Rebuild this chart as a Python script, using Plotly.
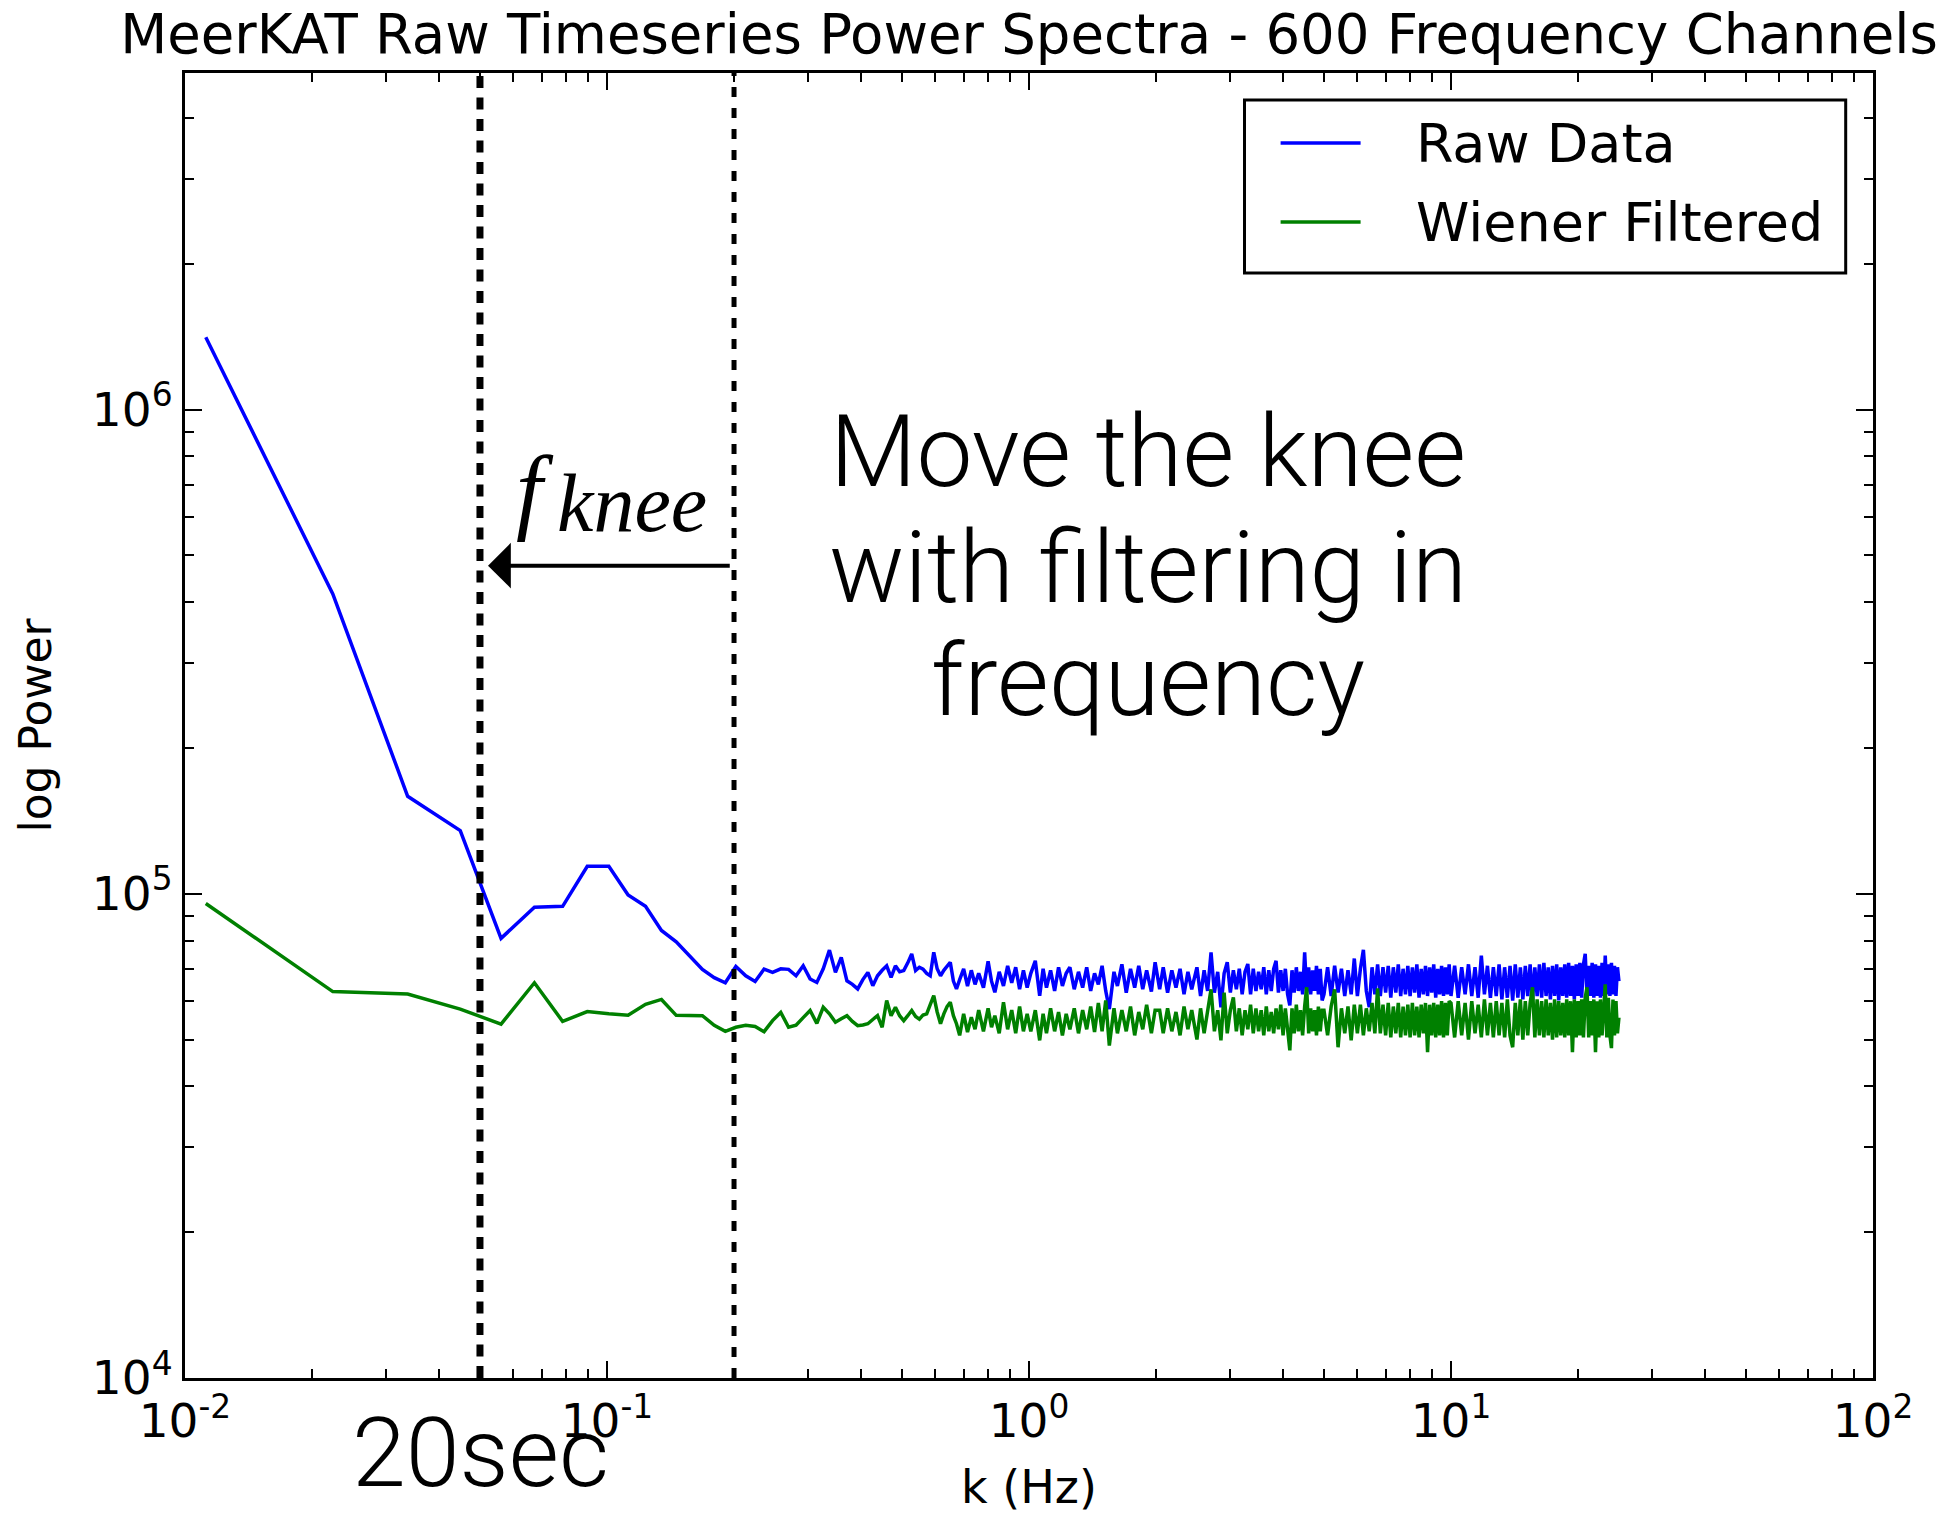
import math
import plotly.graph_objects as go

# ---------------- data ----------------
freq_hz = [
    0.0112, 0.0224, 0.0337, 0.0449, 0.0561, 0.0673, 0.0785, 0.0898, 0.1010, 0.1122,
    0.1234, 0.1346, 0.1459, 0.1571, 0.1683, 0.1795, 0.1907, 0.2020, 0.2132, 0.2244,
    0.2356, 0.2468, 0.2581, 0.2693, 0.2805, 0.2917, 0.3029, 0.3142, 0.3254, 0.3366,
    0.3478, 0.3590, 0.3703, 0.3815, 0.3927, 0.4039, 0.4151, 0.4264, 0.4376, 0.4488,
    0.4600, 0.4712, 0.4825, 0.4937, 0.5049, 0.5161, 0.5273, 0.5386, 0.5498, 0.5610,
    0.5722, 0.5834, 0.5947, 0.6059, 0.6171, 0.6283, 0.6395, 0.6508, 0.6620, 0.6732,
    0.685, 0.70, 0.715, 0.73, 0.745, 0.76, 0.78, 0.80, 0.815, 0.83,
    0.85, 0.87, 0.89, 0.91, 0.93, 0.95, 0.97, 0.99,
    1.01, 1.035, 1.06, 1.08, 1.10, 1.125, 1.15, 1.175, 1.20, 1.225,
    1.25, 1.28, 1.31, 1.34, 1.37, 1.40, 1.43, 1.46, 1.49, 1.52,
    1.55, 1.59, 1.62, 1.66, 1.70, 1.74, 1.78, 1.82, 1.86, 1.90,
    1.95, 1.99,
    2.04, 2.08, 2.13, 2.18, 2.23, 2.28, 2.33, 2.38, 2.43,
    2.50, 2.55, 2.60, 2.65, 2.70, 2.75, 2.80, 2.85, 2.90, 2.95,
    3.00, 3.05, 3.10, 3.15, 3.20, 3.25, 3.30, 3.35, 3.40, 3.45,
    3.50, 3.55, 3.60, 3.65, 3.70, 3.75, 3.80, 3.85, 3.90, 3.95,
    4.00, 4.05, 4.10, 4.15, 4.20, 4.25, 4.30, 4.35, 4.40, 4.45,
    4.50, 4.55, 4.60, 4.65, 4.70, 4.75, 4.80, 4.85, 4.90, 4.95,
    5.0, 5.1, 5.2, 5.3, 5.4, 5.5, 5.6, 5.7, 5.8, 5.9,
    6.0, 6.1, 6.2, 6.3, 6.4, 6.5, 6.6, 6.7, 6.8, 6.9,
    7.0, 7.1, 7.2, 7.3, 7.4, 7.5, 7.6, 7.7, 7.8, 7.9,
    8.0, 8.1, 8.2, 8.3, 8.4, 8.5, 8.6, 8.7, 8.8, 8.9,
    9.0, 9.1, 9.2, 9.3, 9.4, 9.5, 9.6, 9.7, 9.8, 9.9,
    10.0, 10.2, 10.4, 10.6, 10.8, 11.0, 11.2, 11.4, 11.6, 11.8,
    12.0, 12.2, 12.4, 12.6, 12.8, 13.0, 13.2, 13.4, 13.6, 13.8,
    14.0, 14.2, 14.4, 14.6, 14.8, 15.0, 15.2, 15.4, 15.6, 15.8,
    16.0, 16.2, 16.4, 16.6, 16.8, 17.0, 17.2, 17.4, 17.6, 17.8,
    18.0, 18.2, 18.4, 18.6, 18.8, 19.0, 19.2, 19.4, 19.6, 19.8,
    20.0, 20.2, 20.4, 20.6, 20.8, 21.0, 21.2, 21.4, 21.6, 21.8,
    22.0, 22.2, 22.4, 22.6, 22.8, 23.0, 23.2, 23.4, 23.6, 23.8,
    24.0, 24.2, 24.4, 24.6, 24.8, 25.0,
]

raw_power = [
    1410000, 416000, 159000, 135000, 80900, 93800, 94200, 114000, 114000, 99400,
    94200, 84000, 79600, 74200, 69800, 67100, 65500, 70800, 67700, 65900,
    69900, 68800, 70000, 69800, 67700, 71000, 66700, 65600, 70000, 76500,
    68800, 73900, 66100, 65000, 63600, 66500, 68800, 64600, 67700, 69500,
    71000, 67200, 71000, 69000, 69400, 72000, 75100, 69400, 70500, 69900,
    68500, 67700, 75700, 70000, 67700, 69500, 71000, 72200, 66000, 63600,
    66500, 70000, 64500, 69500, 65000, 68500, 64000, 72500, 66000, 62600,
    69000, 64500, 71000, 65500, 70500, 63500, 69500, 64000,
    68500, 72700, 61600, 70000, 64000, 69500, 63000, 70500, 64500, 68500,
    70500, 63500, 69000, 64000, 70500, 63000, 68500, 65000, 71000, 63000,
    57800, 69000, 64500, 71500, 62500, 70000, 64000, 71000, 63500, 69500,
    62800, 72200,
    63500, 70500, 62500, 69500, 64000, 70000, 62000, 69000, 63500,
    70500, 61500, 69500, 63000, 75700, 62500, 69000, 58300, 68500, 72200,
    62500, 69500, 63500, 70000, 62000, 69000, 71600, 62000, 70000, 63000,
    69000, 63500, 70500, 62000, 69500, 63000, 70000, 72700, 62500, 69500,
    63000, 70000, 62000, 58800, 69500, 62500, 70500, 63000, 69000, 62000,
    75700, 62500, 70500, 62000, 69500, 63000, 71000, 62000, 70000, 60200,
    62000, 70500, 61500, 71000, 62500, 70000, 61500, 69500, 62000, 73500,
    61500, 70000, 76600, 63000, 58300, 70500, 62000, 71500, 61500, 70500,
    62500, 71000, 61000, 70500, 62500, 71500, 61500, 70000, 62000, 71000,
    61500, 70500, 62500, 71500, 61000, 70000, 62000, 71000, 61500, 70500,
    62500, 71500, 61000, 70000, 62000, 71000, 61500, 70500, 62000, 71500,
    61500, 71000, 61000, 70500, 62000, 71500, 61500, 70500, 61000, 74500,
    62000, 71000, 61000, 70500, 61500, 71500, 60500, 70500, 61000, 71000,
    60200, 71500, 61000, 70500, 60500, 71000, 61500, 71500, 60200, 70500,
    61500, 71500, 61000, 72000, 61500, 70500, 60500, 71000, 61500, 71500,
    60200, 70500, 61500, 71500, 61000, 72000, 61500, 71000, 60500, 71500,
    61500, 72000, 61000, 71500, 75200, 62000, 71000, 61500, 72000, 61000,
    71500, 61500, 71000, 61000, 72000, 61500, 74500, 62000, 71500, 61500,
    72000, 62000, 71000, 61500, 70500, 66000,
]

wiener_power = [
    95500, 62800, 62100, 57800, 53800, 65500, 54500, 57100, 56500, 56100,
    59100, 60500, 56100, 56000, 56000, 53500, 52000, 53000, 53500, 53200,
    51900, 54700, 56900, 53000, 53500, 55500, 57400, 54000, 58300, 56500,
    54300, 55200, 56000, 54500, 53400, 53600, 53900, 55000, 56000, 53000,
    60200, 56000, 58300, 56000, 54700, 56000, 57400, 55800, 55100, 56200,
    56500, 59000, 61600, 57000, 53900, 56500, 58500, 59700, 56000, 53900,
    51000, 56500, 51800, 55600, 52500, 57500, 52000, 58000, 53000, 56000,
    51500, 59700, 52500, 57500, 51500, 58500, 52000, 56500,
    52000, 57500, 49800, 56500, 51500, 58000, 52000, 57000, 51000, 56500,
    52500, 58000, 51500, 57500, 52500, 58500, 51800, 59500, 52000, 60200,
    48600, 58000, 51500, 57500, 52000, 58500, 51000, 57000, 52500, 59000,
    51500, 57500,
    57500, 51500, 58000, 52000, 57000, 51000, 58500, 52500, 57500,
    50000, 58000, 51500, 57000, 63500, 52000, 57500, 49800, 62500, 51500,
    57500, 61100, 52000, 58000, 51000, 57500, 52500, 59000, 51500, 58000,
    52000, 57500, 51000, 58500, 52000, 57000, 51500, 58000, 52500, 59000,
    51000, 58000, 52000, 47500, 58000, 51500, 59000, 52000, 57500, 51000,
    58500, 64100, 51500, 58000, 52000, 57500, 51000, 58500, 52000, 57500,
    57500, 51000, 58500, 63500, 48200, 58000, 51500, 58500, 49800, 59000,
    51500, 59000, 51000, 58000, 52000, 59500, 51500, 63800, 51500, 59000,
    51000, 59500, 50500, 58500, 51500, 59500, 50500, 58500, 51000, 59000,
    50500, 59500, 51000, 58500, 50500, 59000, 51500, 59500, 47100, 59000,
    51000, 59500, 50500, 59000, 51000, 60000, 50500, 59500, 51000, 60000,
    59500, 50500, 60000, 51000, 59500, 50000, 60000, 51500, 59000, 50500,
    60500, 51000, 59500, 50500, 60000, 51000, 59500, 50500, 60500, 51000,
    48200, 59500, 51000, 60500, 50000, 60000, 51000, 59500, 64100, 50500,
    60500, 51000, 60000, 50500, 60500, 51000, 59500, 50000, 60500, 50500,
    60000, 51000, 59500, 50500, 60500, 51000, 60000, 47100, 60500, 50500,
    60000, 51000, 60500, 50500, 61000, 64100, 50500, 60000, 51000, 60500,
    47100, 60000, 50500, 60500, 51000, 60000, 65000, 50500, 61000, 51000,
    48000, 60500, 51000, 60000, 51500, 55500,
]

series_names = ["Raw Data", "Wiener Filtered"]
series_colors = ["#0000ff", "#008000"]

knee_freqs = [0.05, 0.2]          # new knee (20 s), old knee (5 s)

x_tickvals = [0.01, 0.1, 1, 10, 100]
x_ticktext = ["10<sup>-2</sup>", "10<sup>-1</sup>", "10<sup>0</sup>", "10<sup>1</sup>", "10<sup>2</sup>"]
y_tickvals = [1e4, 1e5, 1e6]
y_ticktext = ["10<sup>4</sup>", "10<sup>5</sup>", "10<sup>6</sup>"]

# ---------------- layout helpers (pixel geometry of the frame) ----------------
W, H = 1951, 1514
L, R, T, B = 185, 1873, 73, 1378


def px(x):
    return (x - L) / (R - L)


def py(y):
    return (B - y) / (B - T)


x_minor = [m * 10 ** e for e in range(-2, 2) for m in range(2, 10)]
y_minor = [m * 10 ** e for e in range(4, 7) for m in range(2, 10) if m * 10 ** e < 5e6]

fig = go.Figure()
for yvals, name, color in zip([raw_power, wiener_power], series_names, series_colors):
    fig.add_trace(go.Scatter(x=freq_hz, y=yvals, mode="lines", name=name,
                             line=dict(color=color, width=3.5), showlegend=False))

# knee markers
for f, w, dash in zip(knee_freqs, [7, 5], ["12px,9.5px", "10px,11px"]):
    fig.add_shape(type="line", xref="x", yref="y domain", x0=f, x1=f, y0=0, y1=1,
                  line=dict(color="black", width=w, dash=dash), layer="above")

# arrow from old knee to new knee
arrow_y = math.log10(4.76e5)
fig.add_annotation(x=math.log10(knee_freqs[0] * 1.045), y=arrow_y,
                   ax=math.log10(knee_freqs[1] * 0.985), ay=arrow_y,
                   xref="x", yref="y", axref="x", ayref="y", text="",
                   showarrow=True, arrowhead=1, arrowsize=1.9, arrowwidth=4,
                   arrowcolor="black", standoff=0, startstandoff=0)

sans_light = dict(family="Roboto, Liberation Sans, sans-serif", size=100, color="black", weight=300)
for txt, yc in [("Move the knee", 452), ("with filtering in", 567), ("frequency", 680)]:
    fig.add_annotation(x=px(1148), y=py(yc), xref="paper", yref="paper", text=txt,
                       showarrow=False, xanchor="center", yanchor="middle", font=sans_light)
fig.add_annotation(x=px(480), y=py(1453), xref="paper", yref="paper", text="20sec",
                   showarrow=False, xanchor="center", yanchor="middle",
                   font=dict(sans_light, size=97))

# f_knee label
fig.add_annotation(x=px(535), y=py(490), xref="paper", yref="paper", text="f",
                   showarrow=False, xanchor="center", yanchor="middle",
                   font=dict(family="Liberation Serif, DejaVu Serif, serif", size=95,
                             color="black", style="italic"))
fig.add_annotation(x=px(555), y=py(503), xref="paper", yref="paper", text="knee",
                   showarrow=False, xanchor="left", yanchor="middle",
                   font=dict(family="Liberation Serif, DejaVu Serif, serif", size=82,
                             color="black", style="italic"))

# legend box (drawn by hand to match the matplotlib legend geometry)
fig.add_shape(type="rect", xref="paper", yref="paper", x0=px(1244.5), x1=px(1845.7),
              y0=py(273), y1=py(100), line=dict(color="black", width=3),
              fillcolor="white", layer="above")
for name, color, yc in zip(series_names, series_colors, [143, 222]):
    fig.add_shape(type="line", xref="paper", yref="paper", x0=px(1280.6), x1=px(1360.6),
                  y0=py(yc), y1=py(yc), line=dict(color=color, width=3.5), layer="above")
    fig.add_annotation(x=px(1414), y=py(yc), xref="paper", yref="paper", text=name,
                       showarrow=False, xanchor="left", yanchor="middle",
                       font=dict(family="DejaVu Sans", size=54, color="black"))

tickfont = dict(family="DejaVu Sans", size=47, color="black")
axis_common = dict(
    type="log", showline=True, linewidth=3, linecolor="black", mirror="allticks",
    ticks="inside", ticklen=17, tickwidth=2, tickcolor="black",
    showgrid=False, zeroline=False, tickfont=tickfont, tickmode="array",
)

fig.update_layout(
    width=W, height=H,
    margin=dict(l=L, r=W - R, t=T, b=H - B, autoexpand=False),
    paper_bgcolor="white", plot_bgcolor="white",
    showlegend=False,
    title=dict(text="MeerKAT Raw Timeseries Power Spectra - 600 Frequency Channels",
               x=0.5, xref="paper", xanchor="center", y=1 - 34 / H, yref="container",
               yanchor="middle", font=dict(family="DejaVu Sans", size=54.5, color="black")),
    xaxis=dict(axis_common, range=[-2, 2], tickvals=x_tickvals, ticktext=x_ticktext,
               minor=dict(ticks="inside", ticklen=9, tickwidth=2, tickcolor="black",
                          tickmode="array", tickvals=x_minor, showgrid=False),
               title=dict(text="k (Hz)", standoff=26,
                          font=dict(family="DejaVu Sans", size=46, color="black"))),
    yaxis=dict(axis_common, range=[4, 6.695], tickvals=y_tickvals, ticktext=y_ticktext,
               minor=dict(ticks="inside", ticklen=9, tickwidth=2, tickcolor="black",
                          tickmode="array", tickvals=y_minor, showgrid=False),
               title=dict(text="log Power", standoff=27,
                          font=dict(family="DejaVu Sans", size=44, color="black"))),
)

fig.write_html("out.html")
